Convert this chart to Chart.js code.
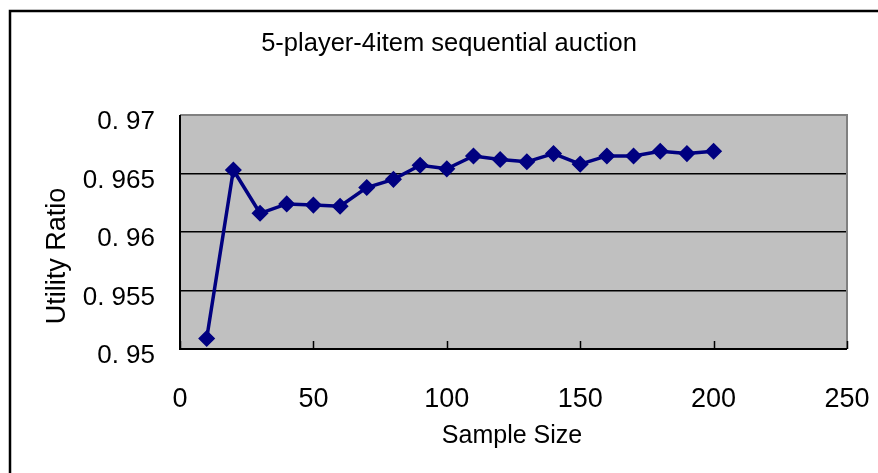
<!DOCTYPE html>
<html>
<head>
<meta charset="utf-8">
<script src="https://cdn.jsdelivr.net/npm/chart.js@4/dist/chart.umd.min.js"></script>
<style>
  html, body { margin: 0; padding: 0; background: #fff; }
  #wrap { width: 878px; height: 473px; }
</style>
</head>
<body>
<div id="wrap"><canvas id="auctionChart" width="878" height="473"></canvas></div>
<script>
const chartTitle = '5-player-4item sequential auction';
const xTitle = 'Sample Size';
const yTitle = 'Utility Ratio';

const sampleSizes = [10, 20, 30, 40, 50, 60, 70, 80, 90, 100,
                     110, 120, 130, 140, 150, 160, 170, 180, 190, 200];
const utilityRatio = [0.9509, 0.9653, 0.9616, 0.9624, 0.9623, 0.9622, 0.9638, 0.9645, 0.9657, 0.9654,
                      0.9665, 0.9662, 0.9660, 0.9667, 0.9658, 0.9665, 0.9665, 0.9669, 0.9667, 0.9669];

const xTicks = [0, 50, 100, 150, 200, 250];
const yTicks = [0.95, 0.955, 0.96, 0.965, 0.97];

const FONT = "'Liberation Sans', Arial, sans-serif";
const NAVY = '#000080';

// 灰色の背景・枠線・軸ラベル・タイトル
const frame = {
    id: 'frame',
    beforeDraw(chart) {
        const { ctx, chartArea: a } = chart;
        ctx.save();
        ctx.fillStyle = '#c0c0c0';
        ctx.fillRect(a.left, a.top, a.right - a.left, a.bottom - a.top);
        ctx.restore();
    },
    beforeDatasetsDraw(chart) {
        const { ctx, chartArea: a } = chart;
        const x = chart.scales.x;
        ctx.save();
        ctx.lineWidth = 2;
        ctx.strokeStyle = '#808080';
        ctx.beginPath();
        ctx.moveTo(a.left, a.top);
        ctx.lineTo(a.right, a.top);
        ctx.lineTo(a.right, a.bottom);
        ctx.stroke();
        ctx.strokeStyle = '#000';
        ctx.beginPath();
        ctx.moveTo(a.left, a.top);
        ctx.lineTo(a.left, a.bottom);
        ctx.lineTo(a.right, a.bottom);
        ctx.stroke();
        // x軸の目盛り（内向き）
        ctx.lineWidth = 1.5;
        xTicks.forEach(v => {
            const px = Math.round(x.getPixelForValue(v)) + 0.5;
            ctx.beginPath();
            ctx.moveTo(px, a.bottom);
            ctx.lineTo(px, a.bottom - 8);
            ctx.stroke();
        });
        ctx.restore();
    },
    afterDraw(chart) {
        const { ctx } = chart;
        ctx.save();
        ctx.strokeStyle = '#000';
        ctx.lineWidth = 2.5;
        ctx.strokeRect(10, 11, 900, 500);
        ctx.fillStyle = '#000';
        ctx.textAlign = 'center';
        ctx.textBaseline = 'middle';
        ctx.font = '25.5px ' + FONT;
        ctx.fillText(chartTitle, 449, 44);
        ctx.font = '25px ' + FONT;
        ctx.fillText(xTitle, 512, 436);
        ctx.translate(58, 256);
        ctx.rotate(-Math.PI / 2);
        ctx.font = '27px ' + FONT;
        ctx.fillText(yTitle, 0, 0);
        ctx.restore();
    }
};

const points = sampleSizes.map((s, i) => ({ x: s, y: utilityRatio[i] }));

new Chart(document.getElementById('auctionChart'), {
    type: 'scatter',
    data: {
        datasets: [{
            label: chartTitle,
            data: points,
            showLine: true,
            borderColor: NAVY,
            borderWidth: 3.5,
            backgroundColor: NAVY,
            pointStyle: 'rectRot',
            pointRadius: 7.5,
            pointBorderWidth: 1.5,
            pointBorderColor: NAVY
        }]
    },
    options: {
        responsive: false,
        animation: false,
        layout: { padding: { top: 115, right: 31, left: 0, bottom: 0 } },
        plugins: {
            legend: { display: false },
            title: { display: false },
            tooltip: { enabled: false }
        },
        scales: {
            x: {
                type: 'linear',
                min: 0,
                max: 250,
                afterFit: s => { s.height = 124; s.paddingLeft = 0; s.paddingRight = 0; },
                afterBuildTicks: s => { s.ticks = xTicks.map(v => ({ value: v })); },
                grid: { display: false },
                border: { display: false },
                ticks: {
                    color: '#000',
                    font: { family: FONT, size: 27 },
                    padding: 26,
                    maxRotation: 0
                }
            },
            y: {
                min: 0.95,
                max: 0.97,
                afterFit: s => { s.width = 180; s.paddingTop = 0; s.paddingBottom = 0; },
                afterBuildTicks: s => { s.ticks = yTicks.map(v => ({ value: v })); },
                grid: {
                    drawTicks: false,
                    lineWidth: 1.5,
                    color: c => (Math.abs(c.tick.value - 0.97) < 1e-6 ? 'rgba(0,0,0,0)' : '#000')
                },
                border: { display: false },
                ticks: {
                    color: '#000',
                    font: { family: FONT, size: 26 },
                    padding: 25,
                    labelOffset: 7,
                    callback: v => Number(v.toFixed(3)).toString().replace('0.', '0. ')
                }
            }
        }
    },
    plugins: [frame]
});
</script>
</body>
</html>
